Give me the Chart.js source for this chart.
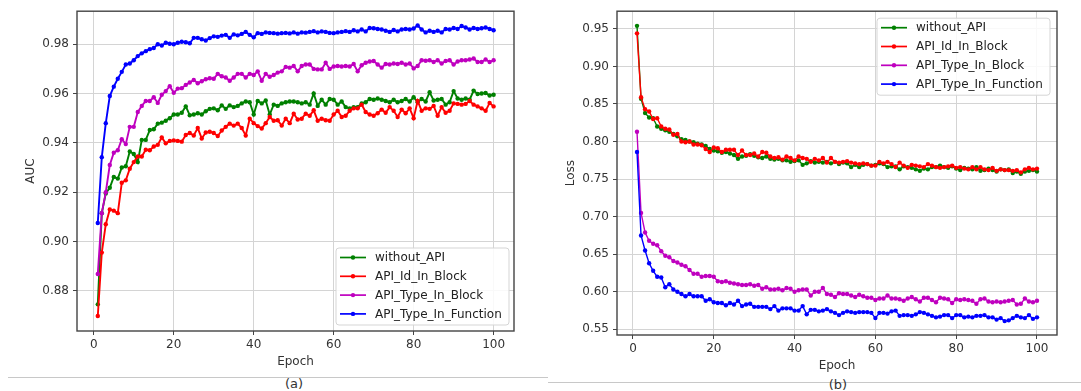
<!DOCTYPE html>
<html>
<head>
<meta charset="utf-8">
<script src="https://cdn.jsdelivr.net/npm/chart.js@4.4.1/dist/chart.umd.min.js"></script>
<style>
  html, body { margin: 0; padding: 0; background: #ffffff; }
  body { width: 1081px; height: 391px; position: relative; overflow: hidden; font-family: "DejaVu Sans", sans-serif; }
  canvas { position: absolute; top: 0; }
  #c1 { left: 0; }
  #c2 { left: 540px; }
  .rule { position: absolute; height: 1px; background: #c8c8c8; }
  .cap { position: absolute; font-size: 13px; color: #333; transform: translate(-50%, -50%); white-space: nowrap; }
</style>
</head>
<body>
<canvas id="c1" width="540" height="372"></canvas>
<canvas id="c2" width="541" height="376"></canvas>
<div class="rule" style="left:8px; top:377px; width:540px;"></div>
<div class="rule" style="left:548px; top:382px; width:533px;"></div>
<div class="cap" style="left:294px; top:383px;">(a)</div>
<div class="cap" style="left:838px; top:384px;">(b)</div>
<script>
// ---------- data ----------
const epochs = [1,2,3,4,5,6,7,8,9,10,11,12,13,14,15,16,17,18,19,20,21,22,23,24,25,26,27,28,29,30,31,32,33,34,35,36,37,38,39,40,41,42,43,44,45,46,47,48,49,50,51,52,53,54,55,56,57,58,59,60,61,62,63,64,65,66,67,68,69,70,71,72,73,74,75,76,77,78,79,80,81,82,83,84,85,86,87,88,89,90,91,92,93,94,95,96,97,98,99,100];

const seriesNames = ["without_API", "API_Id_In_Block", "API_Type_In_Block", "API_Type_In_Function"];
const seriesColors = ["#008000", "#ff0000", "#bf00bf", "#0000ff"];

const xTicks = [0, 20, 40, 60, 80, 100];
const aucTicks = [0.88, 0.90, 0.92, 0.94, 0.96, 0.98];
const lossTicks = [0.55, 0.60, 0.65, 0.70, 0.75, 0.80, 0.85, 0.90, 0.95];

// (a) AUC
const aucWithoutApi = [0.8745,0.9115,0.9195,0.9218,0.9262,0.9255,0.9300,0.9305,0.9365,0.9355,0.9322,0.9412,0.9412,0.9452,0.9455,0.9478,0.9482,0.9490,0.9500,0.9515,0.9515,0.9522,0.9548,0.9512,0.9515,0.9520,0.9515,0.9528,0.9538,0.9540,0.9532,0.9552,0.9538,0.9552,0.9545,0.9550,0.9560,0.9568,0.9565,0.9515,0.9570,0.9560,0.9572,0.9515,0.9555,0.9550,0.9560,0.9565,0.9568,0.9568,0.9565,0.9560,0.9565,0.9555,0.9600,0.9550,0.9575,0.9555,0.9578,0.9575,0.9555,0.9568,0.9545,0.9540,0.9545,0.9545,0.9560,0.9565,0.9578,0.9575,0.9580,0.9575,0.9570,0.9565,0.9575,0.9565,0.9570,0.9578,0.9568,0.9585,0.9565,0.9578,0.9568,0.9605,0.9572,0.9575,0.9578,0.9555,0.9565,0.9610,0.9580,0.9575,0.9580,0.9575,0.9612,0.9598,0.9600,0.9602,0.9592,0.9595];
const aucIdInBlock = [0.8698,0.8955,0.9070,0.9130,0.9125,0.9115,0.9238,0.9248,0.9295,0.9322,0.9345,0.9345,0.9372,0.9370,0.9385,0.9392,0.9422,0.9398,0.9408,0.9410,0.9408,0.9405,0.9432,0.9440,0.9430,0.9460,0.9418,0.9442,0.9445,0.9440,0.9428,0.9450,0.9465,0.9478,0.9470,0.9478,0.9460,0.9430,0.9498,0.9480,0.9468,0.9458,0.9480,0.9505,0.9490,0.9492,0.9470,0.9498,0.9480,0.9518,0.9495,0.9498,0.9518,0.9510,0.9532,0.9490,0.9498,0.9492,0.9490,0.9515,0.9530,0.9505,0.9510,0.9530,0.9540,0.9540,0.9555,0.9525,0.9515,0.9510,0.9520,0.9535,0.9522,0.9545,0.9530,0.9505,0.9535,0.9520,0.9540,0.9500,0.9570,0.9530,0.9540,0.9538,0.9550,0.9510,0.9545,0.9522,0.9530,0.9560,0.9558,0.9555,0.9558,0.9570,0.9555,0.9548,0.9540,0.9530,0.9562,0.9548];
const aucTypeInBlock = [0.8868,0.9115,0.9200,0.9310,0.9360,0.9370,0.9415,0.9395,0.9465,0.9465,0.9525,0.9550,0.9570,0.9570,0.9585,0.9562,0.9595,0.9610,0.9630,0.9603,0.9620,0.9622,0.9635,0.9645,0.9655,0.9642,0.9650,0.9658,0.9662,0.9660,0.9680,0.9670,0.9665,0.9652,0.9665,0.9680,0.9680,0.9665,0.9680,0.9675,0.9690,0.9652,0.9680,0.9668,0.9675,0.9685,0.9690,0.9708,0.9705,0.9712,0.9690,0.9712,0.9718,0.9718,0.9700,0.9698,0.9698,0.9725,0.9700,0.9710,0.9712,0.9710,0.9712,0.9710,0.9720,0.9690,0.9715,0.9725,0.9730,0.9732,0.9718,0.9705,0.9720,0.9718,0.9722,0.9720,0.9725,0.9718,0.9722,0.9702,0.9712,0.9735,0.9733,0.9735,0.9728,0.9735,0.9722,0.9732,0.9735,0.9718,0.9730,0.9735,0.9735,0.9738,0.9742,0.9728,0.9728,0.9738,0.9728,0.9735];
const aucTypeInFunction = [0.9075,0.9342,0.9480,0.9590,0.9628,0.9660,0.9688,0.9718,0.9722,0.9735,0.9752,0.9763,0.9772,0.9780,0.9785,0.9800,0.9795,0.9806,0.9802,0.9800,0.9806,0.9810,0.9808,0.9804,0.9826,0.9826,0.9820,0.9815,0.9825,0.9832,0.9830,0.9835,0.9838,0.9826,0.9840,0.9836,0.9842,0.9850,0.9838,0.9828,0.9845,0.9842,0.9848,0.9846,0.9845,0.9843,0.9845,0.9846,0.9844,0.9848,0.9843,0.9848,0.9847,0.9850,0.9853,0.9848,0.9852,0.9850,0.9846,0.9845,0.9848,0.9850,0.9853,0.9850,0.9857,0.9852,0.9860,0.9852,0.9866,0.9865,0.9862,0.9860,0.9855,0.9850,0.9858,0.9852,0.9860,0.9862,0.9860,0.9864,0.9876,0.9860,0.9848,0.9855,0.9850,0.9855,0.9848,0.9862,0.9860,0.9866,0.9862,0.9874,0.9868,0.9860,0.9866,0.9862,0.9865,0.9868,0.9862,0.9857];

// (b) Loss
const lossWithoutApi = [0.954,0.857,0.838,0.832,0.831,0.820,0.817,0.815,0.813,0.810,0.807,0.803,0.802,0.800,0.799,0.797,0.796,0.794,0.790,0.788,0.787,0.785,0.786,0.784,0.782,0.777,0.780,0.781,0.783,0.781,0.779,0.778,0.780,0.777,0.776,0.777,0.775,0.775,0.773,0.774,0.775,0.769,0.771,0.774,0.772,0.773,0.772,0.773,0.771,0.773,0.770,0.772,0.771,0.766,0.769,0.766,0.769,0.770,0.768,0.769,0.771,0.770,0.766,0.767,0.767,0.763,0.767,0.766,0.765,0.763,0.761,0.764,0.763,0.766,0.766,0.768,0.766,0.765,0.767,0.764,0.762,0.765,0.764,0.763,0.766,0.761,0.762,0.764,0.762,0.760,0.763,0.762,0.763,0.758,0.760,0.757,0.760,0.761,0.762,0.760];
const lossIdInBlock = [0.944,0.859,0.843,0.840,0.830,0.831,0.820,0.817,0.816,0.809,0.810,0.800,0.799,0.800,0.796,0.796,0.795,0.790,0.786,0.792,0.791,0.786,0.789,0.789,0.789,0.782,0.788,0.782,0.782,0.784,0.780,0.786,0.785,0.780,0.778,0.779,0.776,0.780,0.778,0.775,0.780,0.778,0.777,0.773,0.777,0.775,0.778,0.772,0.778,0.773,0.772,0.773,0.774,0.772,0.771,0.770,0.771,0.770,0.768,0.768,0.773,0.771,0.773,0.770,0.766,0.772,0.768,0.765,0.769,0.768,0.767,0.766,0.770,0.768,0.766,0.765,0.766,0.767,0.768,0.765,0.766,0.764,0.763,0.766,0.763,0.766,0.763,0.762,0.765,0.761,0.763,0.762,0.762,0.761,0.762,0.759,0.763,0.765,0.763,0.764];
const lossTypeInBlock = [0.813,0.705,0.679,0.668,0.664,0.662,0.654,0.648,0.646,0.641,0.639,0.636,0.634,0.629,0.624,0.624,0.620,0.621,0.621,0.620,0.614,0.613,0.614,0.612,0.611,0.610,0.609,0.609,0.610,0.608,0.609,0.604,0.606,0.603,0.603,0.604,0.602,0.605,0.604,0.600,0.602,0.603,0.603,0.595,0.600,0.600,0.605,0.597,0.596,0.593,0.598,0.597,0.597,0.595,0.593,0.596,0.594,0.592,0.592,0.589,0.591,0.591,0.595,0.591,0.591,0.590,0.588,0.591,0.593,0.590,0.587,0.592,0.592,0.589,0.586,0.592,0.591,0.590,0.585,0.590,0.589,0.590,0.589,0.588,0.584,0.590,0.591,0.587,0.586,0.587,0.586,0.587,0.588,0.589,0.583,0.584,0.591,0.587,0.586,0.588];
const lossTypeInFunction = [0.786,0.675,0.655,0.638,0.628,0.620,0.619,0.606,0.610,0.603,0.600,0.597,0.594,0.597,0.594,0.594,0.594,0.588,0.590,0.586,0.585,0.585,0.582,0.585,0.583,0.588,0.581,0.583,0.584,0.580,0.580,0.580,0.580,0.577,0.581,0.575,0.578,0.578,0.578,0.575,0.575,0.581,0.570,0.576,0.576,0.574,0.575,0.577,0.574,0.572,0.569,0.572,0.574,0.573,0.572,0.573,0.573,0.573,0.572,0.565,0.572,0.572,0.571,0.574,0.575,0.568,0.569,0.569,0.568,0.570,0.573,0.572,0.570,0.568,0.566,0.567,0.569,0.569,0.565,0.569,0.569,0.566,0.567,0.566,0.568,0.568,0.569,0.566,0.566,0.563,0.565,0.561,0.562,0.565,0.568,0.566,0.565,0.569,0.564,0.566];

// ---------- helpers ----------
const FONT = '"DejaVu Sans", sans-serif';
const TEXT = '#333333';
const FS = 12;

function makeDatasets(seriesList, lineWidth) {
  return seriesList.map((vals, i) => ({
    label: seriesNames[i],
    data: epochs.map((e, k) => ({ x: e, y: vals[k] })),
    borderColor: seriesColors[i],
    backgroundColor: seriesColors[i],
    pointBackgroundColor: seriesColors[i],
    pointBorderWidth: 0,
    pointRadius: 2.2,
    borderWidth: lineWidth,
    tension: 0,
    order: seriesList.length - i   // later series drawn on top, like matplotlib
  }));
}

function frameAndLegend(loc) {
  return {
    id: 'frameAndLegend',
    afterDraw(chart) {
      const ctx = chart.ctx;
      const a = chart.chartArea;
      ctx.save();
      // axes frame
      ctx.strokeStyle = '#444444';
      ctx.lineWidth = 1.4;
      ctx.strokeRect(a.left, a.top, a.right - a.left, a.bottom - a.top);
      // legend
      const w = 173, h = 77;
      let bx, by;
      if (loc === 'lower right') { bx = a.right - 5 - w; by = a.bottom - 6 - h; }
      else { bx = a.right - 7 - w; by = a.top + 7; }
      const r = 3;
      ctx.beginPath();
      ctx.moveTo(bx + r, by);
      ctx.lineTo(bx + w - r, by);
      ctx.quadraticCurveTo(bx + w, by, bx + w, by + r);
      ctx.lineTo(bx + w, by + h - r);
      ctx.quadraticCurveTo(bx + w, by + h, bx + w - r, by + h);
      ctx.lineTo(bx + r, by + h);
      ctx.quadraticCurveTo(bx, by + h, bx, by + h - r);
      ctx.lineTo(bx, by + r);
      ctx.quadraticCurveTo(bx, by, bx + r, by);
      ctx.closePath();
      ctx.fillStyle = 'rgba(255,255,255,0.85)';
      ctx.fill();
      ctx.strokeStyle = '#d5d5d5';
      ctx.lineWidth = 1;
      ctx.stroke();
      ctx.font = FS + 'px ' + FONT;
      ctx.textBaseline = 'middle';
      ctx.textAlign = 'left';
      chart.data.datasets.forEach((ds, i) => {
        const y = by + 9.5 + i * 18.8;
        ctx.strokeStyle = ds.borderColor;
        ctx.lineWidth = 1.7;
        ctx.beginPath();
        ctx.moveTo(bx + 4, y);
        ctx.lineTo(bx + 30, y);
        ctx.stroke();
        ctx.fillStyle = ds.borderColor;
        ctx.beginPath();
        ctx.arc(bx + 17, y, 2.2, 0, Math.PI * 2);
        ctx.fill();
        ctx.fillStyle = '#222222';
        ctx.fillText(ds.label, bx + 39, y + 0.5);
      });
      ctx.restore();
    }
  };
}

function makeChart(id, seriesList, opts) {
  return new Chart(document.getElementById(id), {
    type: 'line',
    data: { datasets: makeDatasets(seriesList, opts.lineWidth) },
    options: {
      responsive: false,
      devicePixelRatio: 1,
      animation: false,
      events: [],
      layout: { padding: { left: 0, top: opts.top, right: opts.right, bottom: 0 } },
      plugins: { legend: { display: false }, tooltip: { enabled: false } },
      scales: {
        x: {
          type: 'linear',
          min: opts.xmin, max: opts.xmax,
          afterBuildTicks: (s) => { s.ticks = xTicks.map(v => ({ value: v })); },
          afterFit: (s) => { s.height = 41; },
          ticks: { color: TEXT, font: { family: FONT, size: FS }, padding: 3, maxRotation: 0,
                   callback: (v) => String(v) },
          grid: { color: '#d4d4d4', lineWidth: 1, drawTicks: true, tickLength: 4, tickColor: '#444444', tickWidth: 1 },
          border: { display: false },
          title: { display: true, text: 'Epoch', color: TEXT, font: { family: FONT, size: FS }, padding: { top: 0, bottom: 3 } }
        },
        y: {
          type: 'linear',
          min: opts.ymin, max: opts.ymax,
          afterBuildTicks: (s) => { s.ticks = opts.yTicks.map(v => ({ value: v })); },
          afterFit: (s) => { s.width = 77; },
          ticks: { color: TEXT, font: { family: FONT, size: FS }, padding: 4,
                   callback: (v) => Number(v).toFixed(2) },
          grid: { color: '#d4d4d4', lineWidth: 1, drawTicks: true, tickLength: 4, tickColor: '#444444', tickWidth: 1 },
          border: { display: false },
          title: { display: true, text: opts.yTitle, color: TEXT, font: { family: FONT, size: FS }, padding: { top: 24, bottom: 0 } }
        }
      }
    },
    plugins: [frameAndLegend(opts.legendLoc)]
  });
}

makeChart('c1', [aucWithoutApi, aucIdInBlock, aucTypeInBlock, aucTypeInFunction], {
  top: 7, right: 26, xmin: -4.2, xmax: 105.1, ymin: 0.8637, ymax: 0.9934,
  yTicks: aucTicks, yTitle: 'AUC', legendLoc: 'lower right', lineWidth: 1.9
});
makeChart('c2', [lossWithoutApi, lossIdInBlock, lossTypeInBlock, lossTypeInFunction], {
  top: 9, right: 24, xmin: -3.95, xmax: 104.95, ymin: 0.5425, ymax: 0.9735,
  yTicks: lossTicks, yTitle: 'Loss', legendLoc: 'upper right', lineWidth: 1.4
});
</script>
</body>
</html>
